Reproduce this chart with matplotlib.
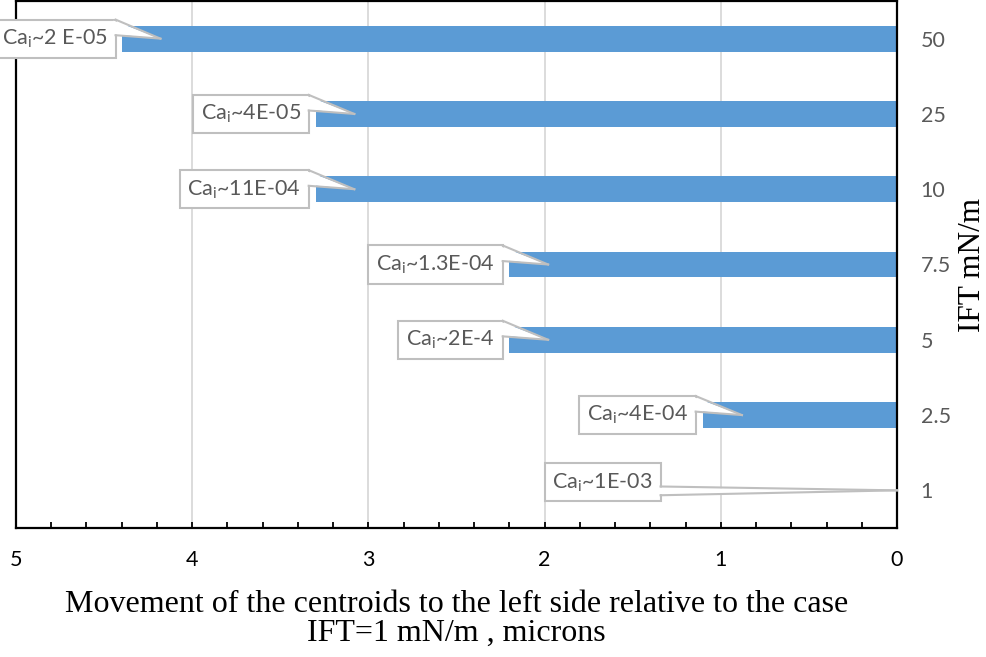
import matplotlib
matplotlib.use("Agg")
import matplotlib.pyplot as plt
from matplotlib.ticker import MultipleLocator
from matplotlib.patches import Polygon
from matplotlib.lines import Line2D
from matplotlib.transforms import IdentityTransform

categories = ["1", "2.5", "5", "7.5", "10", "25", "50"]
movement = [0.0, 1.1, 2.2, 2.2, 3.3, 3.3, 4.4]
labels = ["Ca$_\\mathregular{i}$~1E-03", "Ca$_\\mathregular{i}$~4E-04",
          "Ca$_\\mathregular{i}$~2E-4", "Ca$_\\mathregular{i}$~1.3E-04",
          "Ca$_\\mathregular{i}$~11E-04", "Ca$_\\mathregular{i}$~4E-05",
          "Ca$_\\mathregular{i}$~2 E-05"]
xticks = [5, 4, 3, 2, 1, 0]

# layout of the callouts
label_right = [1.334, 1.135, 2.23, 2.23, 3.331, 3.331, 4.427]  # box right edge (data)
label_dy_pt = [5.8, 0, 0, 0, 0, 0, 0]
wedge_base = [(0.39, 0.16)] + [(1.0, 0.59)] * 6   # fractions of box height
tip_inset = 0.22

plt.rcParams['font.family'] = ['Lato', 'DejaVu Sans']
fig = plt.figure(figsize=(9.86, 6.57), dpi=100)
ax = fig.add_axes([16/986, 1-528/657, (897-16)/986, (528-1)/657])

ypos = list(range(len(categories)))
ax.barh(ypos, movement, height=0.345, color='#5b9bd5', zorder=2)
ax.set_xlim(5, 0)
ax.set_ylim(-0.5, len(categories)-0.5)

ax.yaxis.tick_right()
ax.set_yticks(ypos)
ax.set_yticklabels(categories)
ax.tick_params(axis='y', length=0, pad=17, labelsize=15.5, labelcolor='#595959')
ax.set_xticks(xticks)
ax.set_xticklabels([str(t) for t in xticks])
ax.xaxis.set_minor_locator(MultipleLocator(0.2))
ax.tick_params(axis='x', which='both', direction='in', length=4.5, width=1.3,
               labelsize=15.5, pad=16, labelcolor='black')
ax.grid(axis='x', which='major', color='#d9d9d9', lw=1.3, zorder=0)
for s in ax.spines.values():
    s.set_linewidth(1.6)
    s.set_color('black')

fs = 15.5
pad = 0.36
texts = []
for i, lab in enumerate(labels):
    t = ax.annotate(lab, xy=(label_right[i], i), xytext=(-pad*fs - 1, label_dy_pt[i]),
                    textcoords='offset points', ha='right', va='center', fontsize=fs,
                    color='#595959', annotation_clip=False, zorder=5,
                    bbox=dict(boxstyle=f'square,pad={pad}', fc='white', ec='#bfbfbf', lw=1.5))
    texts.append(t)

ax.set_xlabel("Movement of the centroids to the left side relative to the case\nIFT=1 mN/m , microns",
              fontsize=23, family='Liberation Serif', labelpad=14, linespacing=1.0)
ax.yaxis.set_label_position('right')
ax.set_ylabel("IFT mN/m", fontsize=22.5, family='Liberation Serif', labelpad=5)

fig.canvas.draw()
renderer = fig.canvas.get_renderer()
for i, t in enumerate(texts):
    bb = t.get_bbox_patch().get_window_extent(renderer)
    tip = ax.transData.transform((max(movement[i] - tip_inset, 0), i))
    ftop, fbot = wedge_base[i]
    ytop = bb.y0 + ftop * bb.height
    ybot = bb.y0 + fbot * bb.height
    poly = Polygon([(bb.x1 - 2, ytop - 1), (tip[0], tip[1]), (bb.x1 - 2, ybot + 1)],
                   closed=True, fc='white', ec='none', transform=IdentityTransform(), zorder=6)
    fig.add_artist(poly)
    for yb in (ytop, ybot):
        fig.add_artist(Line2D([bb.x1, tip[0]], [yb, tip[1]], color='#bfbfbf', lw=1.5,
                              transform=IdentityTransform(), zorder=7))

fig.savefig("out.png", dpi=100)
